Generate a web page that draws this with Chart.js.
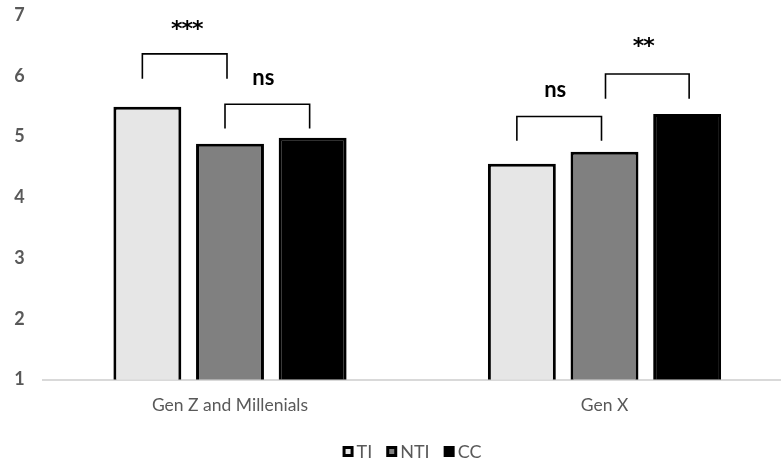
<!DOCTYPE html>
<html>
<head>
<meta charset="utf-8">
<script src="https://cdn.jsdelivr.net/npm/chart.js@4/dist/chart.umd.min.js"></script>
<style>
  html, body { margin: 0; padding: 0; background: #fff; overflow: hidden; width: 781px; height: 464px; }
  canvas { display: block; }
</style>
</head>
<body>
<canvas id="c" width="824" height="464"></canvas>
<script>
// Mean scores per generation and condition
const categories = ['Gen Z and Millenials', 'Gen X'];
const seriesLabels = ['TI', 'NTI', 'CC'];
const tiValues = [5.49, 4.55];
const ntiValues = [4.88, 4.75];
const ccValues = [4.98, 5.37];
const yTickValues = [1, 2, 3, 4, 5, 6, 7];

// Significance markers between adjacent bars
const sigLabels = ['***', 'ns', 'ns', '**'];

// Bracket layout: category, the two compared series, and heights in axis units
const brackets = [
  { cat: 0, from: 0, to: 1, top: 6.36, foot: 5.95, text: 6.66, dx1: -5, dx2: -3, tdx: 2 },
  { cat: 0, from: 1, to: 2, top: 5.53, foot: 5.13, text: 5.85, dx1: -5, dx2: -3, tdx: -4 },
  { cat: 1, from: 0, to: 1, top: 5.33, foot: 4.93, text: 5.65, dx1: -5, dx2: -3, tdx: -4 },
  { cat: 1, from: 1, to: 2, top: 6.03, foot: 5.62, text: 6.37, dx1: 1, dx2: 2, tdx: -4 }
];

const fills = ['#e6e6e6', '#808080', '#000000'];
const seriesValues = [tiValues, ntiValues, ccValues];

const significancePlugin = {
  id: 'significance',
  afterDatasetsDraw(chart) {
    const ctx = chart.ctx;
    const y = chart.scales.y;
    ctx.save();
    ctx.strokeStyle = '#000';
    ctx.lineWidth = 1.6;
    brackets.forEach((b, i) => {
      const x1 = chart.getDatasetMeta(b.from).data[b.cat].x + b.dx1;
      const x2 = chart.getDatasetMeta(b.to).data[b.cat].x + b.dx2;
      const yt = y.getPixelForValue(b.top);
      const yf = y.getPixelForValue(b.foot);
      ctx.beginPath();
      ctx.moveTo(x1, yf);
      ctx.lineTo(x1, yt);
      ctx.lineTo(x2, yt);
      ctx.lineTo(x2, yf);
      ctx.stroke();
      const stars = sigLabels[i].startsWith('*');
      ctx.font = stars ? 'bold 22px "DejaVu Sans"' : 'bold 22px Lato';
      ctx.letterSpacing = stars ? '-1px' : '0px';
      ctx.textAlign = 'center';
      ctx.textBaseline = 'alphabetic';
      ctx.fillStyle = '#000';
      ctx.fillText(sigLabels[i], (x1 + x2) / 2 + b.tdx, y.getPixelForValue(b.text));
    });
    ctx.restore();
  }
};

// Square-swatch legend centred under the plot
const legendPlugin = {
  id: 'swatchLegend',
  afterDraw(chart) {
    const ctx = chart.ctx;
    const box = 11, border = 3, textGap = 3, itemGap = 14, yc = 451.5;
    ctx.save();
    ctx.font = '18px Lato';
    const widths = seriesLabels.map(t => ctx.measureText(t).width);
    const total = widths.reduce((s, w) => s + w + box + textGap, 0) + itemGap * (seriesLabels.length - 1);
    let x = chart.width / 2 - total / 2;
    seriesLabels.forEach((label, i) => {
      ctx.fillStyle = '#000';
      ctx.fillRect(x, yc - box / 2, box, box);
      ctx.fillStyle = fills[i];
      ctx.fillRect(x + border, yc - box / 2 + border, box - 2 * border, box - 2 * border);
      x += box + textGap;
      ctx.fillStyle = '#595959';
      ctx.textAlign = 'left';
      ctx.textBaseline = 'middle';
      ctx.fillText(label, x, yc + 1);
      x += widths[i] + itemGap;
    });
    ctx.restore();
  }
};

new Chart(document.getElementById('c'), {
  type: 'bar',
  data: {
    labels: categories,
    datasets: seriesLabels.map((label, i) => ({
      label,
      data: seriesValues[i],
      backgroundColor: fills[i],
      borderColor: '#000',
      borderWidth: 3,
      borderSkipped: false
    }))
  },
  options: {
    responsive: false,
    animation: false,
    devicePixelRatio: 1,
    datasets: { bar: { categoryPercentage: 0.662, barPercentage: 0.822 } },
    layout: { padding: { top: 15, right: 32.25, left: 0, bottom: 0 } },
    plugins: { legend: { display: false }, tooltip: { enabled: false } },
    scales: {
      x: {
        grid: { display: false, drawTicks: false },
        border: { display: true, color: '#d9d9d9', width: 2 },
        ticks: { color: '#595959', font: { family: 'Lato', size: 17.5 }, padding: 15 },
        afterFit(s) { s.height = 84.5; }
      },
      y: {
        min: 1, max: 7, beginAtZero: false,
        grid: { display: false, drawTicks: false },
        border: { display: false },
        ticks: { color: '#595959', font: { family: 'Lato', size: 18, weight: 'bold' }, padding: 18 },
        afterBuildTicks(s) { s.ticks = yTickValues.map(v => ({ value: v })); },
        afterFit(s) { s.width = 42.75; s.paddingTop = 0; s.paddingBottom = 0; }
      }
    }
  },
  plugins: [significancePlugin, legendPlugin]
});
</script>
</body>
</html>
